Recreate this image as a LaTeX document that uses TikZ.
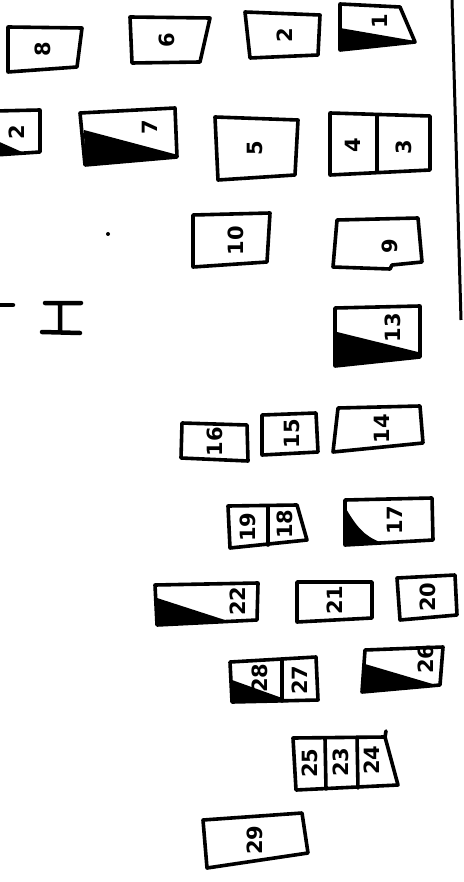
\documentclass[tikz,border=0pt]{standalone}
\usepackage{fontspec}
\setmainfont{DejaVu Sans}
\begin{document}
\begin{tikzpicture}[x=1pt,y=-1pt,
  box/.style={line width=3.6pt,line join=round,line cap=round},
  blk/.style={fill=black},
  lbl/.style={rotate=90,inner sep=0pt,font=\fontsize{21}{21}\selectfont\bfseries}]
\useasboundingbox (0,0) rectangle (463,882);
% right border line
\draw[line width=3pt] (452,0) -- (461,320);
% row 1
\draw[box] (8,27) -- (82,28) -- (77,67) -- (8,72) -- cycle;
\node[lbl] (n8) at (43,49) {8};
\draw[box] (130,17) -- (210,18) -- (200,62) -- (132,63) -- cycle;
\node[lbl] (n6) at (167,40) {6};
\draw[box] (245,12) -- (320,15) -- (318,55) -- (250,58) -- cycle;
\node[lbl] (n2a) at (285,35) {2};
\fill[blk] (340,28) -- (415,41) -- (340,50) -- cycle;
\draw[box] (340,4) -- (400,7) -- (415,42) -- (340,50) -- cycle;
\node[lbl] (n1) at (380,21) {1};
% row 2
\fill[blk] (-5,140) -- (22,152) -- (-5,155) -- cycle;
\draw[box] (-5,111) -- (40,110) -- (40,152) -- (-5,155);
\node[lbl] (n2b) at (17,132) {2};
\fill[blk] (84,130) -- (178,155) -- (177,157) -- (85,165) -- cycle;
\draw[box] (80,113) -- (175,108) -- (177,157) -- (85,165) -- cycle;
\node[lbl] (n7) at (150,127) {7};
\draw[box] (215,117) -- (298,120) -- (295,175) -- (218,180) -- cycle;
\node[lbl] (n5) at (255,148) {5};
\draw[box] (330,113) -- (430,116) -- (430,170) -- (330,175) -- cycle;
\draw[box] (377,115) -- (377,172);
\node[lbl] (n4) at (353,145) {4};
\node[lbl] (n3) at (404,147) {3};
% row 3
\fill (108,234) circle (2pt);
\draw[box] (193,215) -- (270,213) -- (267,262) -- (193,267) -- cycle;
\node[lbl] (n10) at (236,241) {10};
\draw[box] (337,220) -- (418,218) -- (422,262) -- (392,265) -- (390,269) -- (333,267) -- cycle;
\node[lbl] (n9) at (390,246) {9};
% left marks
\draw[line width=4.5pt,line cap=round] (0,305) -- (13,305);
\draw[line width=4.5pt,line cap=round] (45,303) -- (81,303) (60,303) -- (60,331) (42,332) -- (80,333);
% 13
\fill[blk] (337,332) -- (418,352) -- (420,357) -- (335,366) -- cycle;
\draw[box] (335,308) -- (420,306) -- (420,357) -- (335,366) -- cycle;
\node[lbl] (n13) at (393,328) {13};
% 16 15 14
\draw[box] (182,423) -- (247,425) -- (248,461) -- (181,458) -- cycle;
\node[lbl] (n16) at (215,442) {16};
\draw[box] (262,415) -- (316,413) -- (318,452) -- (262,455) -- cycle;
\node[lbl] (n15) at (292,434) {15};
\draw[box] (338,408) -- (420,406) -- (423,443) -- (333,452) -- cycle;
\node[lbl] (n14) at (382,429) {14};
% 19 18 / 17
\draw[box] (228,506) -- (297,505) -- (307,540) -- (230,548) -- cycle;
\draw[box] (268,506) -- (268,545);
\node[lbl] (n19) at (248,527) {19};
\node[lbl] (n18) at (285,524) {18};
\fill[blk] (345,507) .. controls (356,526) and (364,536) .. (380,542) -- (345,545) -- cycle;
\draw[box] (345,500) -- (432,498) -- (433,540) -- (345,545) -- cycle;
\node[lbl] (n17) at (395,520) {17};
% 22 21 20
\fill[blk] (157,598) -- (228,621) -- (157,625) -- cycle;
\draw[box] (155,585) -- (258,583) -- (257,620) -- (157,625) -- cycle;
\node[lbl] (n22) at (238,601) {22};
\draw[box] (297,582) -- (372,582) -- (372,618) -- (297,622) -- cycle;
\node[lbl] (n21) at (335,600) {21};
\draw[box] (397,578) -- (455,575) -- (457,615) -- (400,620) -- cycle;
\node[lbl] (n20) at (428,597) {20};
% 28 27 / 26
\fill[blk] (232,680) -- (282,698) -- (282,701) -- (232,702) -- cycle;
\draw[box] (230,662) -- (316,657) -- (318,700) -- (232,702) -- cycle;
\draw[box] (282,660) -- (282,701);
\node[lbl] (n28) at (260,678) {28};
\node[lbl] (n27) at (300,680) {27};
\fill[blk] (365,664) -- (436,685) -- (362,692) -- cycle;
\draw[box] (365,650) -- (443,647) -- (440,685) -- (362,692) -- cycle;
\node[lbl] (n26) at (426,659) {26};
% 25 23 24
\draw[box] (293,738) -- (385,737) -- (398,785) -- (296,790) -- cycle;
\draw[box] (385,737) -- (386,731);
\draw[box] (325,738) -- (326,789) (357,737) -- (358,788);
\node[lbl] (n25) at (310,763) {25};
\node[lbl] (n23) at (341,762) {23};
\node[lbl] (n24) at (372,760) {24};
% 29
\draw[box] (203,820) -- (302,813) -- (308,853) -- (207,868) -- cycle;
\node[lbl] (n29) at (255,840) {29};
\end{tikzpicture}
\end{document}
